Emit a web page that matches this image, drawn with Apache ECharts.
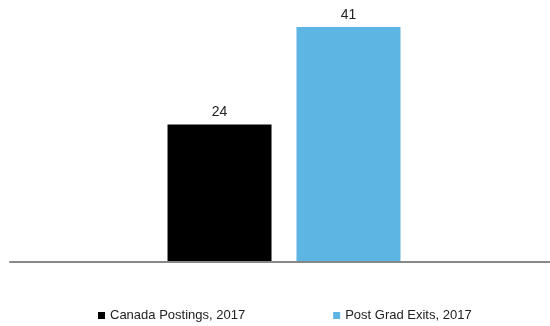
<!DOCTYPE html>
<html>
<head>
<meta charset="utf-8">
<script src="https://cdn.jsdelivr.net/npm/echarts@6/dist/echarts.min.js"></script>
<style>
  html, body { margin: 0; padding: 0; background: #fff; }
  #chart { width: 550px; height: 326px; }
</style>
</head>
<body>
<div id="chart"></div>
<script>
var categories = [''];
var seriesNames = ['Canada Postings, 2017', 'Post Grad Exits, 2017'];
var canadaPostings = [24];
var postGradExits = [41];

var chart = echarts.init(document.getElementById('chart'));

var labelStyle = {
    show: true,
    position: 'top',
    distance: 5,
    color: '#222',
    fontSize: 14,
    fontFamily: 'Liberation Sans, Arial, sans-serif'
};

chart.setOption({
    animation: false,
    // grid 0 only carries the baseline, grid 1 holds the bars (shifted a bit right)
    grid: [
        { left: 10, right: 0, top: 4, bottom: 64 },
        { left: 18, right: 0, top: 4, bottom: 64 }
    ],
    legend: {
        data: seriesNames,
        left: 93,
        top: 304,
        icon: 'rect',
        itemWidth: 7,
        itemHeight: 7,
        itemGap: 88,
        textStyle: { fontSize: 13, color: '#222', fontFamily: 'Liberation Sans, Arial, sans-serif' }
    },
    xAxis: [
        {
            type: 'category',
            gridIndex: 0,
            data: categories,
            z: 5,
            axisLine: { lineStyle: { color: '#888', width: 2 } },
            axisTick: { show: false },
            axisLabel: { show: false }
        },
        {
            type: 'category',
            gridIndex: 1,
            data: categories,
            show: false
        }
    ],
    yAxis: [
        { type: 'value', gridIndex: 0, min: 0, max: 45, show: false, splitLine: { show: false } },
        { type: 'value', gridIndex: 1, min: 0, max: 45, show: false, splitLine: { show: false } }
    ],
    series: [
        {
            name: seriesNames[0],
            type: 'bar',
            xAxisIndex: 1,
            yAxisIndex: 1,
            data: canadaPostings,
            barWidth: 104,
            barGap: '24%',
            itemStyle: { color: '#000000' },
            label: labelStyle
        },
        {
            name: seriesNames[1],
            type: 'bar',
            xAxisIndex: 1,
            yAxisIndex: 1,
            data: postGradExits,
            barWidth: 104,
            itemStyle: { color: '#5db5e3' },
            label: labelStyle
        }
    ]
});
</script>
</body>
</html>
